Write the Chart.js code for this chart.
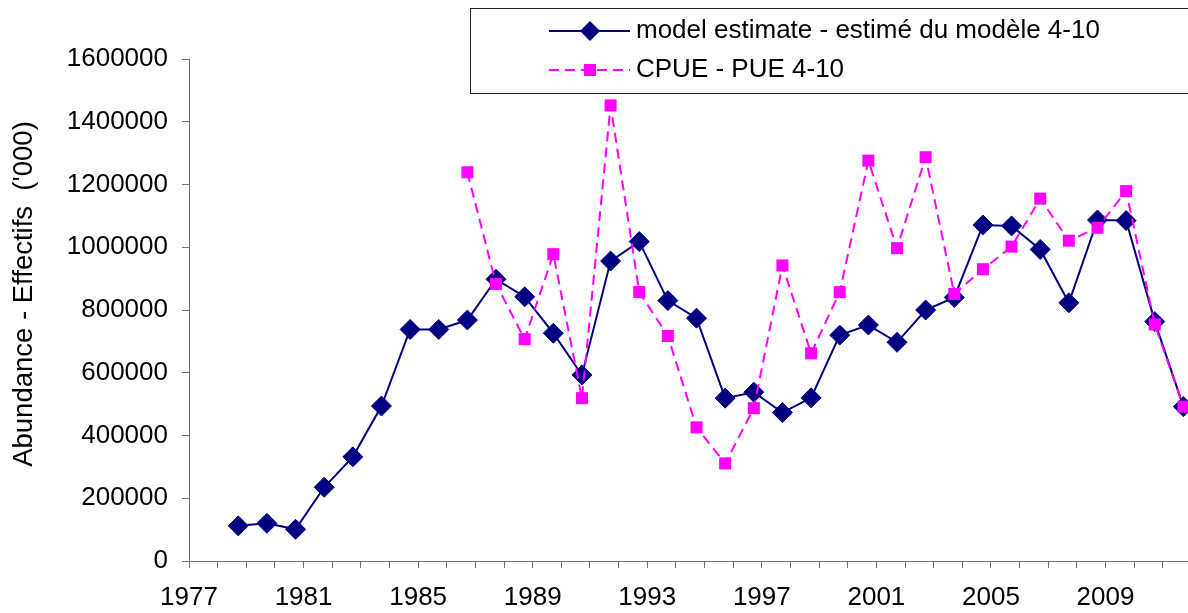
<!DOCTYPE html>
<html>
<head>
<meta charset="utf-8">
<script src="https://cdn.jsdelivr.net/npm/chart.js@4.4.1/dist/chart.umd.min.js"></script>
<style>
  html, body { margin: 0; padding: 0; background: #fff; }
  #wrap { width: 1188px; height: 613px; position: relative; }
</style>
</head>
<body>
<div id="wrap"><canvas id="chart"></canvas></div>
<script>
// ==================
//  DATOS
// ==================
const years = [1979, 1980, 1981, 1982, 1983, 1984, 1985, 1986, 1987, 1988, 1989, 1990,
  1991, 1992, 1993, 1994, 1995, 1996, 1997, 1998, 1999, 2000, 2001, 2002, 2003,
  2004, 2005, 2006, 2007, 2008, 2009, 2010, 2011, 2012];

const modelEstimate = [112000, 120000, 101000, 235000, 332000, 494000, 738000, 738000,
  768000, 898000, 842000, 726000, 593000, 956000, 1018000, 830000, 774000, 519000,
  538000, 473000, 520000, 720000, 752000, 697000, 800000, 840000, 1071000, 1068000,
  993000, 823000, 1087000, 1085000, 763000, 492000];

const cpue = [null, null, null, null, null, null, null, null,
  1239000, 883000, 707000, 978000, 519000, 1452000, 857000, 717000, 426000, 311000,
  487000, 942000, 662000, 857000, 1276000, 997000, 1287000, 851000, 930000, 1002000,
  1155000, 1021000, 1062000, 1179000, 754000, 492000];

const tickYears = [1977, 1981, 1985, 1989, 1993, 1997, 2001, 2005, 2009];

const seriesNames = ["model estimate - estimé du modèle 4-10", "CPUE - PUE 4-10"];
const yTitle = "Abundance - Effectifs  ('000)";

// ==================
//  ESTILO
// ==================
const FONT = { family: "'Liberation Sans', Arial, sans-serif", size: 26 };
const AXIS_COLOR = "#707070";
const NAVY = "#000080";
const MAGENTA = "#FF00FF";
const X_SHIFT = -0.28;   // points sit a bit left of the year ticks
const X_MIN = 1977;
const X_MAX = 2011.88;

const toPoints = (vals) => years
  .map((yr, i) => ({ x: yr + X_SHIFT, y: vals[i] }))
  .filter((p) => p.y !== null);

function drawMarker(ctx, style, x, y, r, color) {
  ctx.fillStyle = color;
  ctx.beginPath();
  if (style === "rectRot") {
    ctx.moveTo(x - r, y);
    ctx.lineTo(x, y - r);
    ctx.lineTo(x + r, y);
    ctx.lineTo(x, y + r);
  } else {
    const s = r * Math.SQRT1_2;
    ctx.rect(x - s, y - s, 2 * s, 2 * s);
  }
  ctx.closePath();
  ctx.fill();
}

// legend box like the original (top right, partly off the canvas) + y title
const boxLegend = {
  id: "boxLegend",
  afterDraw(chart) {
    const ctx = chart.ctx;
    ctx.save();
    ctx.font = `${FONT.size}px ${FONT.family}`;

    // y axis title
    ctx.save();
    ctx.translate(24, 294);
    ctx.rotate(-Math.PI / 2);
    ctx.fillStyle = "#000";
    ctx.textAlign = "center";
    ctx.textBaseline = "middle";
    ctx.font = `27.5px ${FONT.family}`;
    ctx.fillText(yTitle, 0, 0);
    ctx.restore();

    ctx.fillStyle = "#fff";
    ctx.fillRect(470.5, 8.5, 740, 85);
    ctx.strokeStyle = "#222";
    ctx.lineWidth = 1;
    ctx.strokeRect(470.5, 8.5, 740, 85);
    const rows = [31, 70];
    chart.data.datasets.forEach((ds, i) => {
      const y = rows[i];
      ctx.strokeStyle = ds.borderColor;
      ctx.lineWidth = 2;
      ctx.setLineDash(ds.borderDash || []);
      ctx.beginPath();
      ctx.moveTo(549, y);
      ctx.lineTo(630, y);
      ctx.stroke();
      ctx.setLineDash([]);
      drawMarker(ctx, ds.pointStyle, 590, y, ds.pointRadius, ds.pointBackgroundColor);
      ctx.fillStyle = "#000";
      ctx.textBaseline = "middle";
      ctx.textAlign = "left";
      ctx.fillText(seriesNames[i], 636, y);
    });
    ctx.restore();
  }
};

new Chart(document.getElementById("chart"), {
  type: "line",
  data: {
    datasets: [
      {
        label: seriesNames[0],
        data: toPoints(modelEstimate),
        borderColor: NAVY,
        backgroundColor: NAVY,
        borderWidth: 2,
        pointStyle: "rectRot",
        pointRadius: 10,
        pointBackgroundColor: NAVY,
        pointBorderColor: NAVY,
        pointBorderWidth: 1,
        tension: 0,
        order: 1
      },
      {
        label: seriesNames[1],
        data: toPoints(cpue),
        borderColor: MAGENTA,
        backgroundColor: MAGENTA,
        borderWidth: 2,
        borderDash: [10, 6],
        pointStyle: "rect",
        pointRadius: 8.5,
        pointBackgroundColor: MAGENTA,
        pointBorderColor: MAGENTA,
        pointBorderWidth: 0,
        tension: 0,
        order: 0
      }
    ]
  },
  options: {
    responsive: true,
    maintainAspectRatio: false,
    animation: false,
    layout: { autoPadding: false, padding: { top: 59, left: 0, right: 0, bottom: 0 } },
    plugins: {
      legend: { display: false },
      tooltip: { enabled: false }
    },
    scales: {
      x: {
        type: "linear",
        min: X_MIN,
        max: X_MAX,
        afterBuildTicks: (axis) => {
          const t = [];
          for (let yr = X_MIN; yr <= X_MAX; yr++) t.push({ value: yr });
          axis.ticks = t;
        },
        afterFit: (axis) => { axis.height = 52; },
        grid: {
          drawOnChartArea: false,
          drawTicks: true,
          tickLength: 7,
          tickColor: AXIS_COLOR,
          tickWidth: 1
        },
        border: { display: true, color: AXIS_COLOR, width: 1 },
        ticks: {
          autoSkip: false,
          maxRotation: 0,
          padding: 14,
          color: "#000",
          font: FONT,
          callback: (v) => (tickYears.includes(v) ? String(v) : "")
        }
      },
      y: {
        min: 0,
        max: 1600000,
        afterFit: (axis) => { axis.width = 189; },
        grid: {
          drawOnChartArea: false,
          drawTicks: true,
          tickLength: 7,
          tickColor: AXIS_COLOR,
          tickWidth: 1
        },
        border: { display: true, color: AXIS_COLOR, width: 1 },
        ticks: {
          stepSize: 200000,
          padding: 14,
          color: "#000",
          font: FONT,
          callback: (v) => String(v)
        }
      }
    }
  },
  plugins: [boxLegend]
});
</script>
</body>
</html>
